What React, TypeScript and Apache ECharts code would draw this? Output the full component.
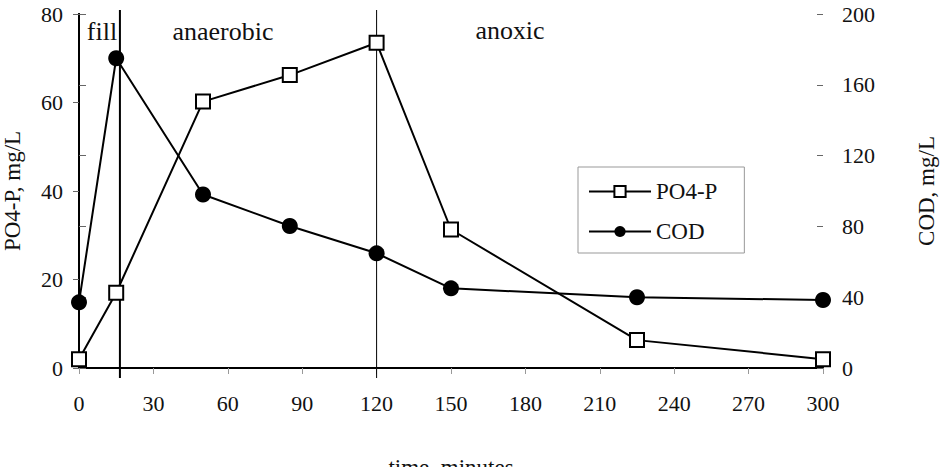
import React, { useEffect, useRef } from "react";
import * as echarts from "echarts";

const timeMinutes = [0, 15, 50, 85, 120, 150, 225, 300];
const po4P = [2.0, 17.0, 60.2, 66.2, 73.5, 31.3, 6.3, 2.0];
const cod = [37.1, 175.0, 98.0, 80.2, 64.8, 45.0, 40.0, 38.4];
const phaseBoundaries = [16.5, 120];
const phaseLabels = ["fill", "anaerobic", "anoxic"];
const xTicks = [0, 30, 60, 90, 120, 150, 180, 210, 240, 270, 300];
const leftTicks = [0, 20, 40, 60, 80];
const rightTicks = [0, 40, 80, 120, 160, 200];

const FONT = "Liberation Serif";

export default function App() {
  const ref = useRef<HTMLDivElement>(null);
  useEffect(() => {
    if (!ref.current) return;
    const chart = echarts.init(ref.current, undefined, { renderer: "svg" });
    const poData = timeMinutes.map((t, i) => [t, po4P[i]]);
    const codData = timeMinutes.map((t, i) => [t, cod[i]]);
    const boundaryData = phaseBoundaries.map((t) => [t, 0]);
    const annot = (text: string, x: number, y: number) => ({
      type: "text",
      x,
      y,
      scaleX: 1.18,
      scaleY: 1.18,
      style: {
        text,
        fontFamily: FONT,
        fontSize: 22,
        fill: "#111",
        textAlign: "center",
        textVerticalAlign: "middle",
        verticalAlign: "middle",
        align: "center",
      },
    });
    chart.setOption({
      animation: false,
      backgroundColor: "#fff",
      textStyle: { fontFamily: FONT },
      grid: { left: 79, right: 118, top: 14, bottom: 99, outerBoundsMode: "none", containLabel: false },
      legend: {
        data: ["PO4-P", "COD"],
        orient: "vertical",
        left: 578,
        top: 167,
        padding: [13, 27, 10, 10],
        itemGap: 17,
        itemWidth: 62,
        itemHeight: 14,
        borderColor: "#999",
        borderWidth: 1,
        backgroundColor: "#fff",
        textStyle: { fontFamily: FONT, fontSize: 23, color: "#111" },
      },
      graphic: [
        annot(phaseLabels[0], 102, 31),
        annot(phaseLabels[1], 223, 31),
        annot(phaseLabels[2], 510, 30),
      ],
      xAxis: [
        {
          type: "value",
          min: 0,
          max: 300,
          interval: 30,
          name: "time, minutes",
          nameLocation: "middle",
          nameGap: 88,
          nameTextStyle: { fontFamily: FONT, fontSize: 23, color: "#111" },
          axisLine: { show: true, lineStyle: { color: "#000", width: 2 } },
          axisTick: { show: true, inside: false, length: 6, lineStyle: { color: "#999", width: 1 } },
          axisLabel: {
            margin: 24,
            fontFamily: FONT,
            fontSize: 22,
            color: "#111",
            customValues: xTicks,
          },
          splitLine: { show: false },
        },
        {
          type: "value",
          position: "top",
          min: 0,
          max: 300,
          axisLine: { show: true, lineStyle: { color: "#000", width: 2 } },
          axisTick: { show: false },
          axisLabel: { show: false },
          splitLine: { show: false },
        },
      ],
      yAxis: [
        {
          type: "value",
          position: "left",
          min: 0,
          max: 80,
          interval: 20,
          name: "PO4-P, mg/L",
          nameLocation: "middle",
          nameGap: 55,
          nameTextStyle: { fontFamily: FONT, fontSize: 23, color: "#111" },
          axisLine: { show: true, lineStyle: { color: "#000", width: 2 } },
          axisTick: { show: true, inside: false, length: 6, lineStyle: { color: "#666" } },
          axisLabel: { margin: 16, fontFamily: FONT, fontSize: 22, color: "#111", customValues: leftTicks },
          splitLine: { show: false },
        },
        {
          type: "value",
          position: "right",
          min: 0,
          max: 200,
          interval: 40,
          name: "COD, mg/L",
          nameLocation: "middle",
          nameGap: 92,
          nameTextStyle: { fontFamily: FONT, fontSize: 23, color: "#111" },
          axisLine: { show: true, lineStyle: { color: "#000", width: 2 } },
          axisTick: { show: true, inside: false, length: 7, lineStyle: { color: "#666" } },
          axisLabel: { margin: 19, fontFamily: FONT, fontSize: 22, color: "#111", customValues: rightTicks },
          splitLine: { show: false },
        },
        {
          type: "value",
          position: "right",
          min: 0,
          max: 200,
          interval: 40,
          axisLine: { show: false },
          axisTick: { show: true, inside: true, length: 6, lineStyle: { color: "#666" } },
          axisLabel: { show: false },
          splitLine: { show: false },
        },
      ],
      series: [
        {
          type: "custom",
          name: "phases",
          xAxisIndex: 0,
          yAxisIndex: 0,
          clip: false,
          silent: true,
          z: 1,
          data: boundaryData,
          renderItem: (params: any, api: any) => {
            const x = api.value(0);
            const top = api.coord([x, 80]);
            const bot = api.coord([x, 0]);
            return {
              type: "line",
              shape: { x1: top[0], y1: top[1] - 4, x2: bot[0], y2: bot[1] + 10 },
              style: { stroke: "#000", lineWidth: params.dataIndex === 0 ? 2 : 1 },
            };
          },
        },
        {
          type: "line",
          name: "PO4-P",
          xAxisIndex: 0,
          yAxisIndex: 0,
          data: poData,
          symbol: "rect",
          symbolSize: 14,
          z: 3,
          lineStyle: { color: "#000", width: 2 },
          itemStyle: { color: "#fff", borderColor: "#000", borderWidth: 2 },
        },
        {
          type: "line",
          name: "COD",
          xAxisIndex: 0,
          yAxisIndex: 1,
          data: codData,
          symbol: "circle",
          symbolSize: 16,
          z: 4,
          lineStyle: { color: "#000", width: 2 },
          itemStyle: { color: "#000", borderColor: "#000", borderWidth: 0 },
        },
      ],
    });
    return () => chart.dispose();
  }, []);
  return (
    <div
      ref={ref}
      style={{ position: "fixed", left: 0, top: 0, width: 941, height: 467 }}
    />
  );
}
